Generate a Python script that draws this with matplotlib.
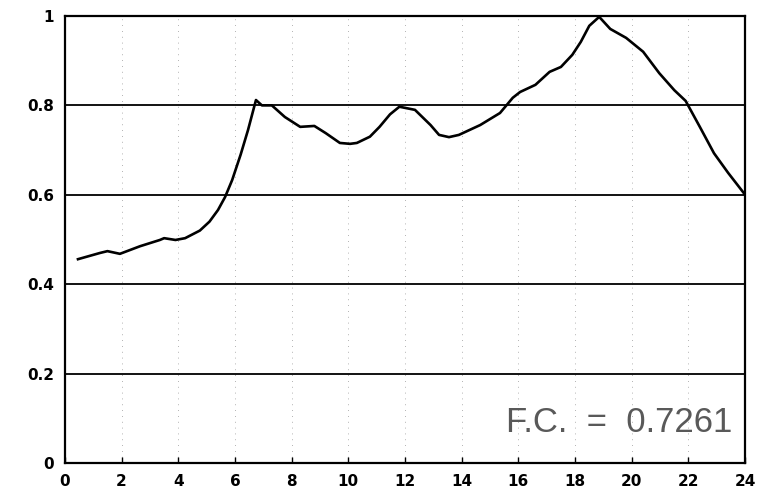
import numpy as np
import matplotlib.pyplot as plt

# curve
x_vals = [0.46, 1.24, 1.5, 1.94, 2.65, 3.35, 3.5, 3.9, 4.24, 4.76, 5.1, 5.4, 5.65, 5.9,
          6.2, 6.46, 6.74, 6.95, 7.3, 7.76, 8.3, 8.8, 9.2, 9.7, 10.06, 10.3, 10.76,
          11.1, 11.47, 11.8, 12.35, 12.9, 13.2, 13.55, 13.9, 14.65, 15.35, 15.8,
          16.06, 16.6, 17.1, 17.5, 17.9, 18.2, 18.5, 18.85, 19.24, 19.8, 20.4,
          20.97, 21.5, 21.9, 22.4, 22.9, 23.4, 24.0]
y_vals = [0.456, 0.47, 0.474, 0.468, 0.485, 0.499, 0.503, 0.499, 0.503, 0.52, 0.54,
          0.566, 0.595, 0.633, 0.69, 0.745, 0.812, 0.80, 0.80, 0.774, 0.752, 0.754,
          0.738, 0.716, 0.714, 0.716, 0.73, 0.752, 0.78, 0.797, 0.79, 0.756, 0.734,
          0.729, 0.734, 0.756, 0.783, 0.817, 0.83, 0.846, 0.875, 0.886, 0.913,
          0.942, 0.978, 0.998, 0.971, 0.951, 0.92, 0.872, 0.834, 0.81, 0.752,
          0.693, 0.649, 0.60]
x_ticks = [0, 2, 4, 6, 8, 10, 12, 14, 16, 18, 20, 22, 24]
y_ticks = [0, 0.2, 0.4, 0.6, 0.8, 1]
y_labels = ["0", "0.2", "0.4", "0.6", "0.8", "1"]
fc_value = 0.7261

fig = plt.figure(figsize=(7.73, 4.99), dpi=100)
ax = fig.add_axes([0.084, 0.072, 0.880, 0.896])

for yv in y_ticks[1:-1]:
    ax.axhline(yv, color="black", lw=1.3, zorder=1)
for xv in x_ticks[1:-1]:
    ax.axvline(xv, color="0.6", lw=0.6, ls=(0, (1, 6)), zorder=0)

ax.plot(x_vals, y_vals, color="black", lw=1.9, zorder=3)

ax.set_xlim(0, 24)
ax.set_ylim(0, 1)
ax.set_xticks(x_ticks)
ax.set_yticks(y_ticks)
ax.set_yticklabels(y_labels)
ax.tick_params(axis="x", direction="in", length=4, width=1, labelsize=11, pad=8)
ax.tick_params(axis="y", length=0, labelsize=11, pad=8)
for lab in ax.get_xticklabels() + ax.get_yticklabels():
    lab.set_fontweight("bold")
for sp in ax.spines.values():
    sp.set_linewidth(1.6)

ax.text(0.981, 0.09, f"F.C.  =  {fc_value:.4f}", transform=ax.transAxes,
        ha="right", va="center", fontsize=25, color="0.35",
        family="Liberation Sans")

fig.savefig("out.png", dpi=100)
